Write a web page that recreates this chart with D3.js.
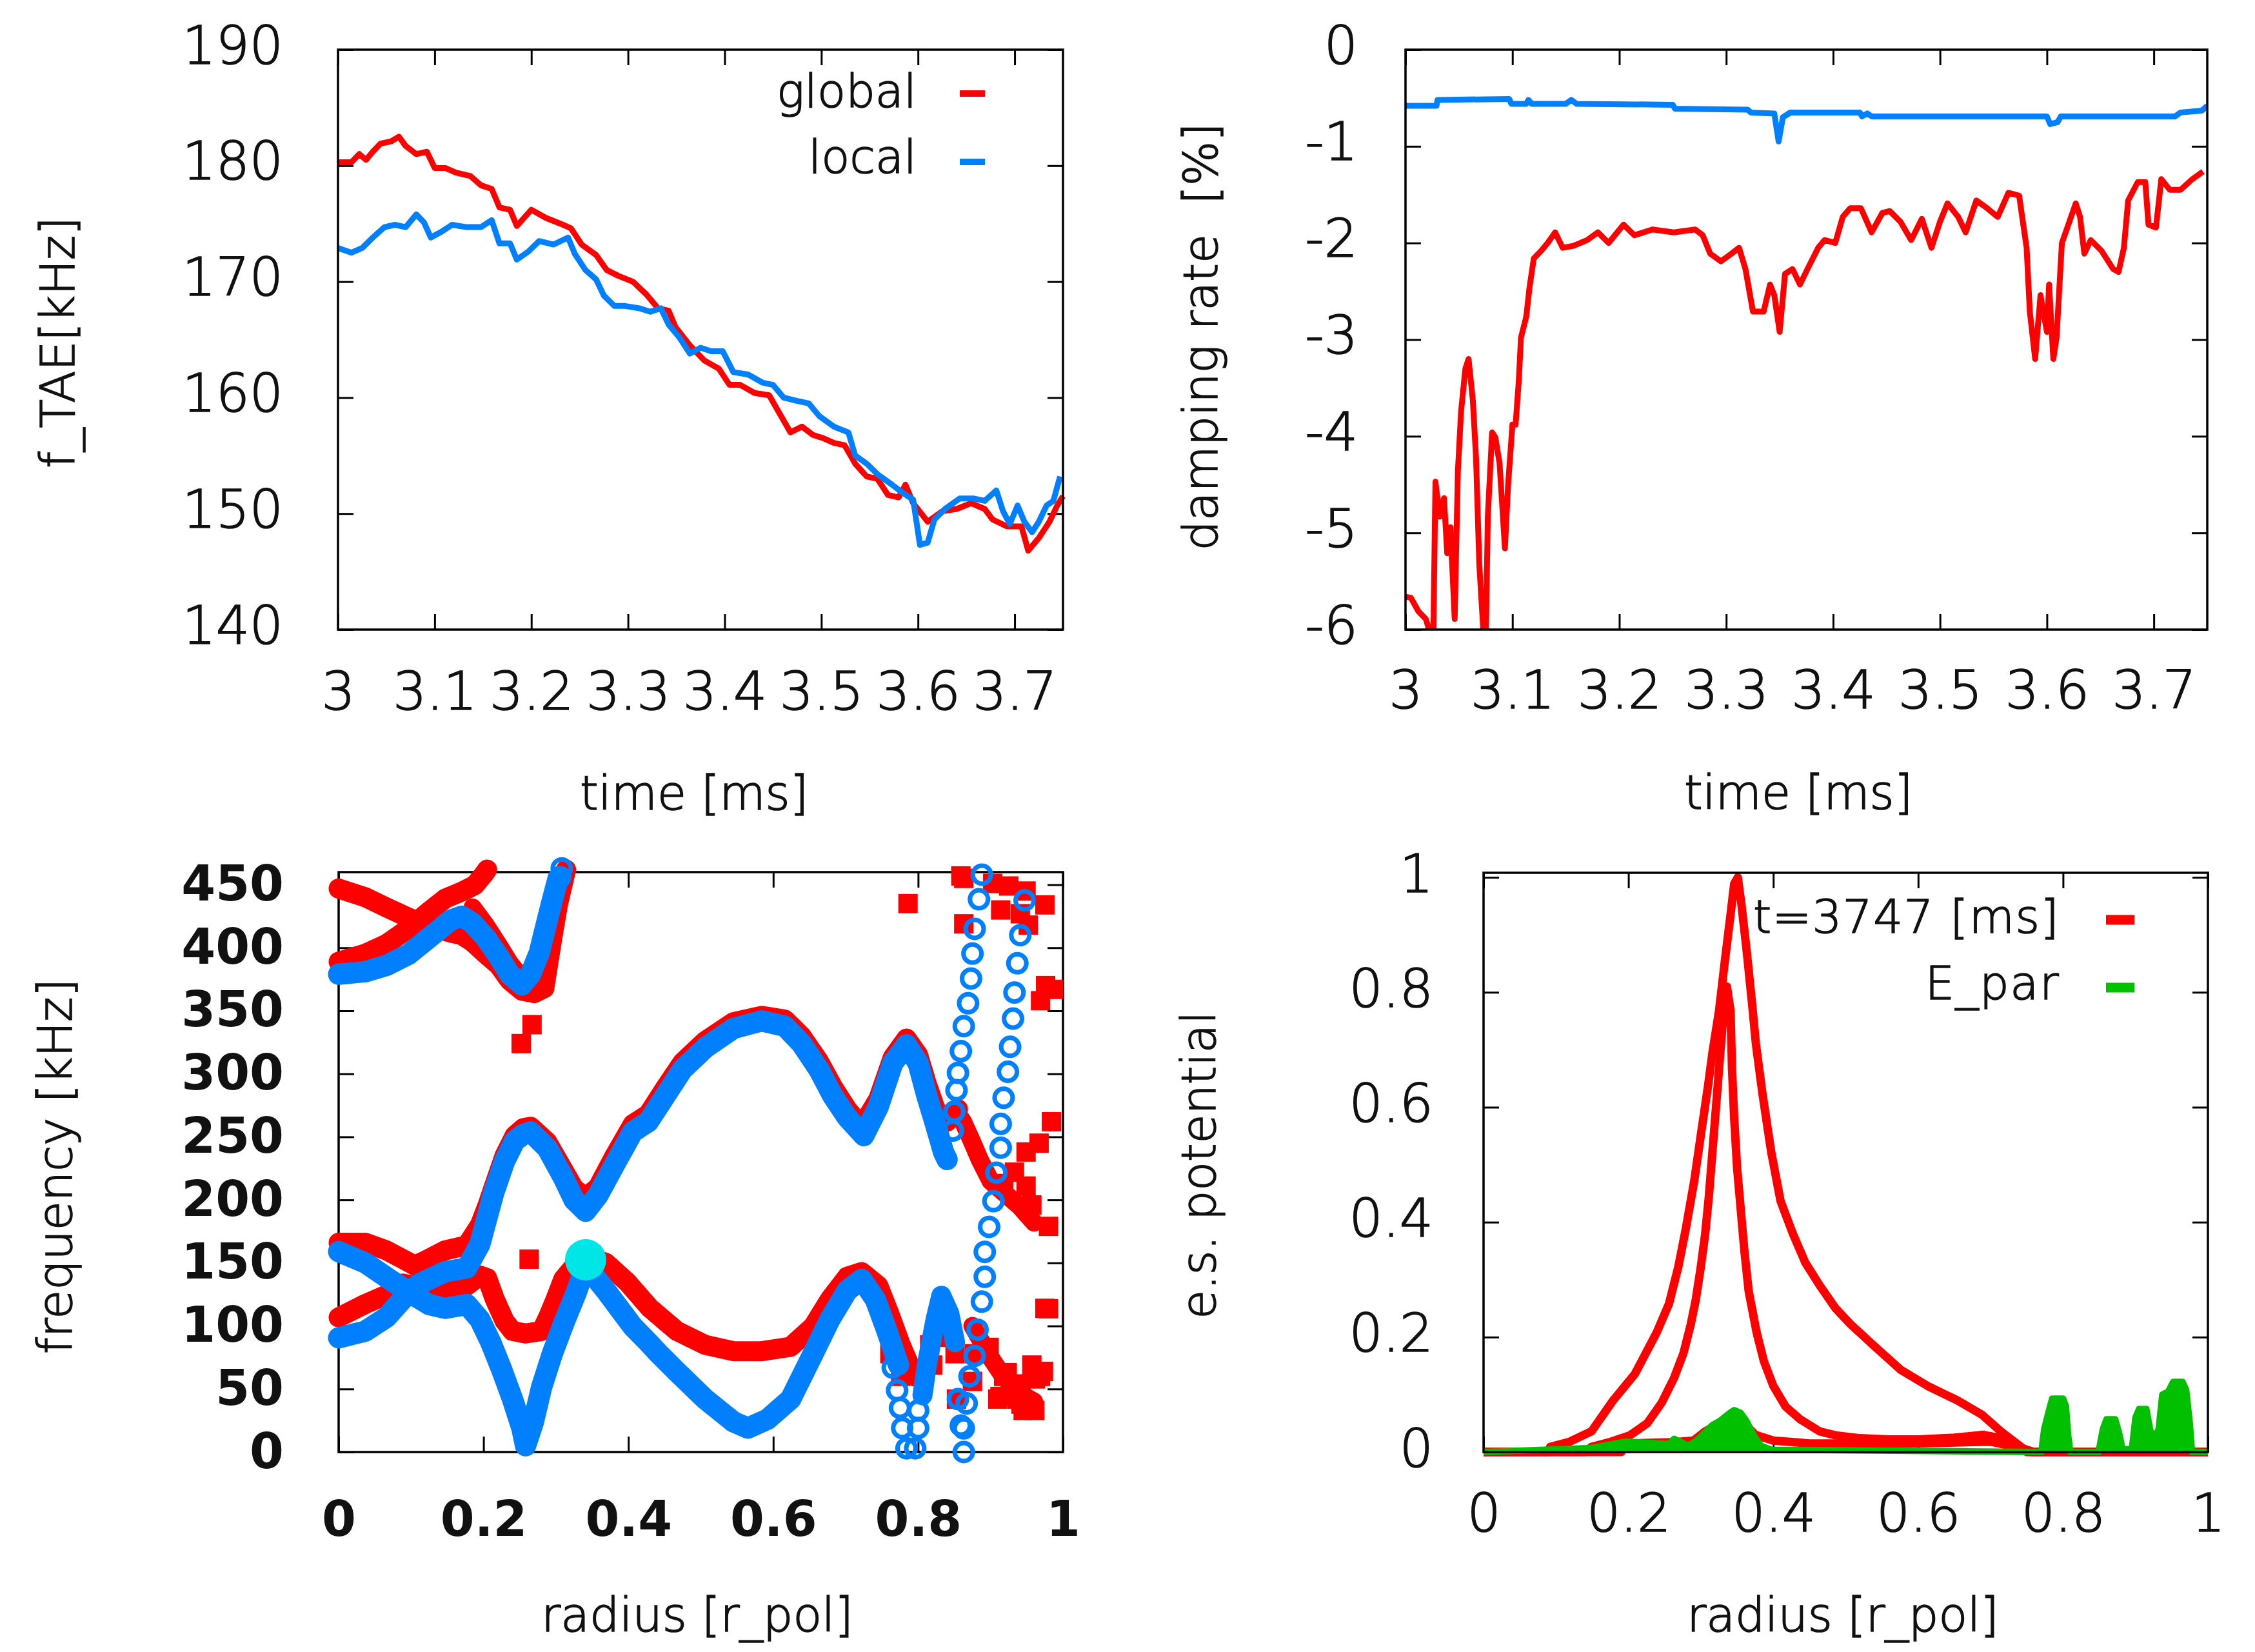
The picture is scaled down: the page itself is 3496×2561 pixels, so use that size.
<!DOCTYPE html>
<html>
<head>
<meta charset="utf-8">
<script src="https://cdn.jsdelivr.net/npm/d3@7"></script>
<style>
  html, body { margin: 0; padding: 0; background: #ffffff; }
  svg { display: block; }
  text { font-family: "DejaVu Sans", "Liberation Sans", sans-serif; fill: #111; font-weight: 300;
         stroke: #111; stroke-width: 1.6px; }
  text.heavy { stroke: none; }
</style>
</head>
<body>
<svg id="fig" width="3496" height="2561"></svg>
<script>
// ---------- tick values ----------
const timeTicks = [3, 3.1, 3.2, 3.3, 3.4, 3.5, 3.6, 3.7];
const freqTicks = [140, 150, 160, 170, 180, 190];
const dampTicks = [-6, -5, -4, -3, -2, -1, 0];
const radiusTicks = [0, 0.2, 0.4, 0.6, 0.8, 1];
const contTicks = [0, 50, 100, 150, 200, 250, 300, 350, 400, 450];
const potTicks = [0, 0.2, 0.4, 0.6, 0.8, 1];

// ---------- TAE frequency vs time [ms, kHz] ----------
const fTaeGlobal = [
  [3.000,180.3],[3.014,180.3],[3.022,181.0],[3.029,180.5],[3.036,181.2],[3.044,181.9],[3.055,182.1],
  [3.063,182.5],[3.070,181.7],[3.081,181.0],[3.092,181.2],[3.100,179.8],[3.111,179.8],[3.122,179.4],
  [3.137,179.1],[3.148,178.3],[3.159,178.0],[3.167,176.4],[3.178,176.2],[3.185,174.8],[3.200,176.2],
  [3.215,175.5],[3.230,175.0],[3.241,174.6],[3.252,173.2],[3.267,172.3],[3.278,171.0],[3.290,170.5],
  [3.305,170.0],[3.319,168.9],[3.331,167.7],[3.342,167.5],[3.349,166.1],[3.364,164.5],[3.379,163.2],
  [3.394,162.5],[3.405,161.1],[3.416,161.1],[3.431,160.4],[3.446,160.2],[3.457,158.6],[3.468,157.0],
  [3.480,157.5],[3.491,156.8],[3.502,156.5],[3.513,156.1],[3.524,155.9],[3.535,154.3],[3.547,153.2],
  [3.558,153.0],[3.569,151.6],[3.580,151.4],[3.587,152.5],[3.595,150.9],[3.610,149.3],[3.625,150.2],
  [3.640,150.4],[3.655,150.9],[3.669,150.4],[3.677,149.5],[3.692,148.9],[3.707,148.9],[3.714,146.8],
  [3.725,147.9],[3.736,149.3],[3.744,150.7],[3.750,151.5]
];
const fTaeLocal = [
  [3.000,172.9],[3.014,172.5],[3.025,172.9],[3.036,173.8],[3.048,174.7],[3.059,174.9],[3.070,174.7],
  [3.081,175.8],[3.089,175.1],[3.096,173.8],[3.107,174.3],[3.118,174.9],[3.133,174.7],[3.148,174.7],
  [3.159,175.3],[3.167,173.3],[3.178,173.3],[3.185,171.9],[3.197,172.6],[3.208,173.5],[3.223,173.2],
  [3.238,173.8],[3.245,172.4],[3.256,171.0],[3.267,170.2],[3.275,168.8],[3.286,167.9],[3.297,167.9],
  [3.312,167.7],[3.323,167.4],[3.334,167.7],[3.342,166.3],[3.353,165.2],[3.364,163.8],[3.375,164.3],
  [3.386,164.0],[3.398,164.0],[3.409,162.2],[3.424,162.0],[3.439,161.3],[3.450,161.1],[3.461,160.0],
  [3.476,159.7],[3.487,159.5],[3.498,158.4],[3.513,157.5],[3.528,157.0],[3.535,155.0],[3.547,154.3],
  [3.558,153.4],[3.573,152.5],[3.584,151.8],[3.595,151.2],[3.602,147.3],[3.610,147.5],[3.617,149.5],
  [3.628,150.4],[3.643,151.3],[3.658,151.3],[3.669,151.1],[3.681,152.0],[3.688,150.2],[3.695,149.1],
  [3.703,150.7],[3.710,149.3],[3.718,148.4],[3.725,149.3],[3.733,150.7],[3.740,151.1],[3.747,153.2]
];

// ---------- damping rate vs time [ms, %] ----------
const dampGlobal = [
  [3.000,-5.66],[3.005,-5.67],[3.012,-5.81],[3.019,-5.89],[3.022,-6.00],[3.026,-6.10],[3.028,-4.47],
  [3.032,-4.83],[3.036,-4.64],[3.039,-5.21],[3.042,-4.94],[3.046,-5.89],[3.049,-4.36],[3.052,-3.74],
  [3.056,-3.30],[3.059,-3.20],[3.063,-3.63],[3.066,-4.23],[3.069,-5.32],[3.073,-6.05],[3.075,-6.20],
  [3.077,-4.83],[3.081,-3.96],[3.084,-4.01],[3.088,-4.28],[3.093,-5.16],[3.096,-4.50],[3.100,-3.88],
  [3.103,-3.88],[3.106,-3.42],[3.108,-2.98],[3.113,-2.76],[3.116,-2.46],[3.120,-2.16],[3.127,-2.08],
  [3.133,-2.00],[3.140,-1.89],[3.147,-2.05],[3.157,-2.03],[3.170,-1.97],[3.180,-1.89],[3.190,-2.00],
  [3.204,-1.81],[3.214,-1.92],[3.231,-1.86],[3.251,-1.89],[3.271,-1.86],[3.278,-1.92],[3.285,-2.11],
  [3.295,-2.19],[3.305,-2.11],[3.312,-2.05],[3.318,-2.27],[3.325,-2.71],[3.335,-2.71],[3.341,-2.43],
  [3.345,-2.54],[3.350,-2.92],[3.355,-2.32],[3.362,-2.27],[3.369,-2.43],[3.376,-2.27],[3.386,-2.05],
  [3.392,-1.97],[3.402,-2.00],[3.409,-1.73],[3.416,-1.64],[3.426,-1.64],[3.436,-1.89],[3.446,-1.69],
  [3.453,-1.67],[3.463,-1.78],[3.473,-1.97],[3.483,-1.75],[3.492,-2.05],[3.500,-1.78],[3.507,-1.59],
  [3.517,-1.73],[3.524,-1.89],[3.534,-1.56],[3.544,-1.64],[3.554,-1.73],[3.564,-1.48],[3.574,-1.51],
  [3.581,-2.05],[3.584,-2.71],[3.589,-3.20],[3.594,-2.54],[3.600,-2.92],[3.602,-2.43],[3.606,-3.20],
  [3.609,-2.98],[3.614,-2.00],[3.621,-1.78],[3.627,-1.59],[3.631,-1.73],[3.635,-2.11],[3.641,-1.97],
  [3.651,-2.08],[3.662,-2.27],[3.667,-2.30],[3.672,-2.05],[3.676,-1.56],[3.685,-1.37],[3.692,-1.37],
  [3.695,-1.81],[3.702,-1.84],[3.707,-1.34],[3.715,-1.45],[3.725,-1.45],[3.736,-1.34],[3.746,-1.26]
];
const dampLocal = [
  [3.000,-0.58],[3.029,-0.58],[3.030,-0.52],[3.097,-0.51],[3.099,-0.56],[3.113,-0.56],[3.115,-0.52],
  [3.118,-0.56],[3.150,-0.56],[3.155,-0.52],[3.160,-0.56],[3.250,-0.57],[3.252,-0.61],[3.320,-0.62],
  [3.323,-0.65],[3.345,-0.66],[3.349,-0.95],[3.353,-0.70],[3.360,-0.65],[3.425,-0.65],[3.427,-0.69],
  [3.432,-0.66],[3.436,-0.69],[3.600,-0.69],[3.603,-0.77],[3.610,-0.75],[3.613,-0.69],[3.720,-0.69],
  [3.725,-0.65],[3.745,-0.63],[3.750,-0.58]
];

// ---------- continuum spectrum [r_pol, kHz] ----------
// global continuum branches (red)
const globalUpperA = [
  [0,447],[0.037,440],[0.066,432],[0.096,424],[0.125,417],[0.155,412],[0.17,410],[0.184,405],[0.203,395],
  [0.221,386],[0.236,374],[0.253,366],[0.27,364],[0.284,368],[0.29,390],[0.297,415],[0.303,435],[0.31,452],[0.314,462]
];
const globalUpperB = [
  [0,389],[0.037,395.4],[0.066,403],[0.096,415],[0.125,429],[0.147,439],[0.17,444.5],[0.188,449.7],[0.2,458],[0.205,462]
];
const globalUpperFlank = [[0.185,432],[0.203,418],[0.221,402],[0.236,388],[0.25,378]];
const globalLowA = [
  [0,166],[0.037,166],[0.066,160],[0.092,152],[0.105,148],[0.12,152],[0.147,160],[0.177,164],[0.195,180],
  [0.206,196.5],[0.214,210],[0.229,235],[0.243,251],[0.255,257],[0.265,258],[0.288,246],[0.31,224],
  [0.325,209],[0.341,202],[0.358,210],[0.38,234],[0.406,260],[0.4275,268],[0.451,289],[0.4745,309],
  [0.506,326],[0.545,341],[0.584,346],[0.616,343],[0.639,330],[0.663,310],[0.682,290],[0.702,272],
  [0.722,258],[0.745,280],[0.765,313],[0.784,328],[0.8,315],[0.812,292],[0.824,272],[0.84,262],[0.855,272]
];
const globalLowB = [
  [0,106.8],[0.037,117.5],[0.066,124.7],[0.088,133.7],[0.12,130],[0.147,130],[0.177,132],[0.195,140],
  [0.205,138],[0.215,122],[0.229,104],[0.24,96],[0.258,94],[0.28,96],[0.29,108],[0.3,122],[0.31,137],
  [0.323,146],[0.345,155],[0.369,150],[0.398,135],[0.43,114],[0.467,96],[0.506,85],[0.545,80],[0.584,80],
  [0.624,83.5],[0.655,99.6],[0.678,121],[0.702,139],[0.722,142.7],[0.745,132],[0.761,108.6],[0.776,85],
  [0.788,69],[0.796,60]
];
const globalEdgeHigh = [[0.85,272],[0.862,262],[0.873,248],[0.885,232],[0.9,215],[0.92,205],[0.94,195],[0.96,182]];
const globalEdgeLow = [[0.875,100],[0.89,85],[0.9,75],[0.915,62],[0.93,52],[0.945,45],[0.96,40]];
const globalSquares = [
  [0.252,324],[0.267,339],[0.263,153],
  [0.786,435],[0.859,457],[0.863,419],[0.863,455],[0.903,451],[0.914,430],[0.925,449],[0.941,427],
  [0.949,445],[0.952,418],[0.975,434],[0.976,370],[0.969,358],[0.987,367],[0.984,262],[0.967,245],
  [0.949,238],[0.933,222],[0.918,213],[0.949,211],[0.957,196],[0.98,179],[0.975,114],[0.98,113.6],
  [0.761,78],[0.776,60],[0.804,60],[0.816,85],[0.82,69],[0.843,91],[0.851,78],[0.853,42],[0.875,56],
  [0.878,78],[0.898,83],[0.918,60],[0.91,42],[0.937,42],[0.957,69],[0.969,60],[0.945,33],[0.961,33],
  [0.973,64],[0.923,63],[0.942,54],[0.962,58],[0.942,38],[0.913,44]
];

// local continuum branches (blue)
const localUpper = [
  [0,379],[0.037,381],[0.066,386],[0.096,394.6],[0.125,408],[0.155,422],[0.17,425],[0.184,420],[0.203,408],
  [0.221,393],[0.236,379],[0.253,370.5],[0.265,379],[0.277,396],[0.286,417],[0.295,437.6],[0.303,455]
];
const localMid = [
  [0,90.6],[0.037,96],[0.066,106.8],[0.088,121],[0.11,133],[0.147,143],[0.177,146],[0.195,165],[0.203,182],
  [0.214,205.5],[0.229,230.6],[0.243,246.8],[0.255,252],[0.265,254],[0.288,241],[0.31,218],[0.325,200],
  [0.341,191],[0.358,203.7],[0.38,227],[0.406,254],[0.4275,262],[0.451,282.7],[0.4745,303.4],[0.506,320.6],
  [0.545,336],[0.584,342],[0.616,337.8],[0.639,324],[0.663,303.4],[0.682,282.7],[0.702,265.5],[0.725,251],
  [0.745,274],[0.765,308.5],[0.784,323],[0.8,308.5],[0.812,282.7],[0.824,260],[0.835,238],[0.84,232]
];
const localLow = [
  [0,159],[0.037,150],[0.074,135.5],[0.103,124.7],[0.125,117],[0.147,114],[0.177,117],[0.195,105],[0.21,87],
  [0.225,65.5],[0.24,42],[0.253,18.8],[0.258,5],[0.269,24],[0.28,51],[0.295,78],[0.31,101],[0.328,126.5],
  [0.341,148],[0.369,128],[0.406,99.6],[0.4275,87],[0.442,78],[0.467,63.7],[0.506,42],[0.545,24],[0.565,19],
  [0.592,26],[0.624,42],[0.655,78],[0.678,105],[0.702,128],[0.722,137],[0.741,121],[0.757,96],[0.773,69]
];
const localEdge = [[0.806,45],[0.812,69],[0.824,105],[0.832,124],[0.843,110],[0.851,87]];
const localSparse = [
  [0.947,437.6],[0.941,410],[0.937,387.7],[0.933,364.5],[0.931,343.8],[0.927,321.4],[0.924,301.6],
  [0.918,281],[0.914,260.3],[0.914,241.4],[0.908,221.6],[0.904,199],[0.898,178.6],[0.892,158.8],
  [0.892,139],[0.888,119.3],[0.882,97],[0.878,76.3],[0.871,60],[0.867,38.6],[0.863,18.8],[0.863,0],
  [0.888,458],[0.884,438.5],[0.878,415],[0.875,395.4],[0.873,375.6],[0.869,356],[0.863,337.8],
  [0.859,318],[0.855,300.8],[0.853,287],[0.85,270],[0.848,255],
  [0.765,67],[0.771,49],[0.775,35],[0.778,19],[0.784,3],[0.796,3],[0.8,19],[0.8,33],
  [0.855,42],[0.859,21],
  [0.306,456],[0.308,463]
];
const taeMode = [[0.341,152.5]];

// ---------- mode structure [r_pol, normalised] ----------
const phiHarmonic1 = [
  [0,0],[0.09,0],[0.092,0.009],[0.119,0.018],[0.149,0.036],[0.179,0.09],[0.209,0.136],[0.239,0.208],
  [0.256,0.258],[0.269,0.323],[0.279,0.387],[0.291,0.473],[0.300,0.552],[0.310,0.638],[0.316,0.695],
  [0.325,0.767],[0.333,0.853],[0.340,0.925],[0.346,0.989],[0.351,1.0],[0.356,0.953],[0.363,0.875],
  [0.370,0.789],[0.376,0.710],[0.385,0.624],[0.397,0.523],[0.410,0.437],[0.427,0.38],[0.444,0.33],
  [0.464,0.29],[0.486,0.25],[0.507,0.222],[0.538,0.186],[0.576,0.143],[0.613,0.115],[0.654,0.090],
  [0.688,0.065],[0.714,0.036],[0.744,0.007],[0.755,0],[1,0]
];
const phiHarmonic2 = [
  [0,0],[0.14,0],[0.149,0.009],[0.176,0.018],[0.202,0.029],[0.226,0.05],[0.246,0.086],[0.263,0.129],
  [0.276,0.172],[0.286,0.222],[0.293,0.265],[0.300,0.323],[0.306,0.38],[0.311,0.444],[0.316,0.523],
  [0.321,0.602],[0.326,0.681],[0.331,0.76],[0.336,0.81],[0.341,0.767],[0.343,0.667],[0.346,0.581],
  [0.350,0.495],[0.355,0.423],[0.360,0.351],[0.366,0.28],[0.377,0.208],[0.387,0.158],[0.400,0.115],
  [0.417,0.079],[0.437,0.057],[0.464,0.036],[0.486,0.029],[0.52,0.024],[0.56,0.022],[0.6,0.022],
  [0.65,0.025],[0.69,0.03],[0.71,0.025],[0.74,0.008],[0.76,0],[1,0]
];
const phiHarmonic3 = [
  [0,0],[0.19,0],[0.2,0.015],[0.26,0.017],[0.29,0.02],[0.305,0.035],[0.325,0.05],[0.345,0.055],
  [0.36,0.05],[0.375,0.03],[0.4,0.02],[0.45,0.015],[0.6,0.015],[0.7,0.018],[0.73,0.01],[0.75,0],[1,0]
];
const eParallel = [
  [0,0],[0.149,0.007],[0.196,0.018],[0.256,0.014],[0.263,0.023],[0.283,0.011],[0.296,0.022],[0.316,0.047],
  [0.326,0.054],[0.340,0.068],[0.346,0.073],[0.355,0.068],[0.363,0.054],[0.373,0.029],[0.383,0.011],
  [0.397,0.004],[0.77,0],[0.774,0.04],[0.78,0.07],[0.785,0.093],[0.8,0.093],[0.804,0.08],[0.807,0.03],
  [0.81,0],[0.849,0],[0.855,0.04],[0.86,0.057],[0.872,0.057],[0.878,0.03],[0.882,0.005],[0.895,0.005],
  [0.9,0.06],[0.905,0.075],[0.915,0.075],[0.92,0.04],[0.925,0.02],[0.932,0.04],[0.937,0.1],[0.945,0.105],
  [0.952,0.122],[0.965,0.122],[0.97,0.108],[0.975,0.05],[0.978,0],[1,0]
];

// ---------- colours ----------
const RED = "#ff0000", BLUE = "#0080ff", GREEN = "#00c000", CYAN = "#00e6e6";

// ---------- drawing helpers ----------
const svg = d3.select("#fig");
const TICK_LEN = 24;
const fmt = d => String(d);

function makePanel(o) {
  const g = svg.append("g");
  const x = d3.scaleLinear().domain(o.xDomain).range([o.left, o.right]);
  const y = d3.scaleLinear().domain(o.yDomain).range([o.bottom, o.top]);
  return { g, x, y, o };
}

function styleAxis(sel, size, weight) {
  sel.select(".domain").remove();
  sel.attr("font-family", "DejaVu Sans, sans-serif").attr("font-size", size);
  sel.selectAll(".tick line").attr("stroke", "#000").attr("stroke-width", 3);
  sel.selectAll(".tick text").attr("fill", "#111").style("font-weight", weight)
    .classed("heavy", weight === "bold");
}

function drawFrame(p) {
  const { g, x, y, o } = p;
  const size = o.tickFont, weight = o.tickWeight || "300";
  g.append("g").attr("transform", `translate(${o.left},0)`)
    .call(d3.axisLeft(y).tickValues(o.yTicks).tickSizeInner(-TICK_LEN).tickSizeOuter(0)
      .tickPadding(o.yPad).tickFormat(fmt))
    .call(s => styleAxis(s, size, weight))
    .call(s => s.selectAll(".tick text").attr("dy", o.yDy));
  g.append("g").attr("transform", `translate(${o.right},0)`)
    .call(d3.axisRight(y).tickValues(o.yTicks).tickSizeInner(-TICK_LEN).tickSizeOuter(0).tickFormat(""))
    .call(s => styleAxis(s, size, weight));
  g.append("g").attr("transform", `translate(0,${o.bottom})`)
    .call(d3.axisBottom(x).tickValues(o.xTicks).tickSizeInner(-TICK_LEN).tickSizeOuter(0).tickFormat(fmt))
    .call(s => styleAxis(s, size, weight))
    .call(s => s.selectAll(".tick text").attr("y", o.xLabelOffset).attr("dy", 0));
  g.append("g").attr("transform", `translate(0,${o.top})`)
    .call(d3.axisTop(x).tickValues(o.xTicks).tickSizeInner(-TICK_LEN).tickSizeOuter(0).tickFormat(""))
    .call(s => styleAxis(s, size, weight));
}

function drawBorder(p) {
  const { g, o } = p;
  g.append("rect").attr("x", o.left).attr("y", o.top)
    .attr("width", o.right - o.left).attr("height", o.bottom - o.top)
    .attr("fill", "none").attr("stroke", "#000").attr("stroke-width", 3.5);
}

function titles(p, xt, yt) {
  const { g } = p;
  g.append("text").attr("x", xt.x).attr("y", xt.y).attr("text-anchor", "middle")
    .attr("font-size", 73).style("white-space", "pre").text(xt.text);
  g.append("text").attr("transform", `translate(${yt.x},${yt.y}) rotate(-90)`)
    .attr("text-anchor", "middle").attr("font-size", 73).style("white-space", "pre").text(yt.text);
}

function legendEntry(g, label, colour, tx, ty, lx1, lx2, ly, width, spacing) {
  g.append("text").attr("x", tx).attr("y", ty).attr("text-anchor", "end")
    .attr("font-size", 72).attr("letter-spacing", spacing || 0).text(label);
  g.append("line").attr("x1", lx1).attr("x2", lx2).attr("y1", ly).attr("y2", ly)
    .attr("stroke", colour).attr("stroke-width", width);
}

// ---------- panel 1 : TAE frequency ----------
{
  const p = makePanel({ xDomain: [3, 3.75], yDomain: [140, 190], left: 524, right: 1648, top: 77, bottom: 976,
    xTicks: timeTicks, yTicks: freqTicks, tickFont: 82, yPad: 85, yDy: 21, xLabelOffset: 124 });
  drawFrame(p);
  const line = d3.line().x(d => p.x(d[0])).y(d => p.y(d[1]));
  p.g.append("path").datum(fTaeGlobal).attr("d", line).attr("fill", "none")
    .attr("stroke", RED).attr("stroke-width", 9).attr("stroke-linejoin", "round");
  p.g.append("path").datum(fTaeLocal).attr("d", line).attr("fill", "none")
    .attr("stroke", BLUE).attr("stroke-width", 9).attr("stroke-linejoin", "round");
  drawBorder(p);
  titles(p, { x: 1076, y: 1255, text: "time [ms]" }, { x: 115, y: 531, text: "f_TAE[kHz]" });
  legendEntry(p.g, "global", RED, 1421, 166, 1488, 1527, 145, 10);
  legendEntry(p.g, "local", BLUE, 1421, 268, 1488, 1527, 251, 10);
}

// ---------- panel 2 : damping rate ----------
{
  const p = makePanel({ xDomain: [3, 3.75], yDomain: [-6, 0], left: 2179, right: 3422, top: 77, bottom: 976,
    xTicks: timeTicks, yTicks: dampTicks, tickFont: 82, yPad: 74, yDy: 21, xLabelOffset: 122 });
  drawFrame(p);
  p.g.append("clipPath").attr("id", "clip-damp").append("rect")
    .attr("x", 2179).attr("y", 77).attr("width", 3422 - 2179).attr("height", 976 - 77);
  const line = d3.line().x(d => p.x(d[0])).y(d => p.y(d[1]));
  const lines = p.g.append("g").attr("clip-path", "url(#clip-damp)");
  lines.append("path").datum(dampGlobal).attr("d", line).attr("fill", "none")
    .attr("stroke", RED).attr("stroke-width", 9).attr("stroke-linejoin", "round");
  lines.append("path").datum(dampLocal).attr("d", line).attr("fill", "none")
    .attr("stroke", BLUE).attr("stroke-width", 9).attr("stroke-linejoin", "round");
  drawBorder(p);
  titles(p, { x: 2788, y: 1254, text: "time [ms]" }, { x: 1887, y: 522, text: "damping rate  [%]" });
}

// ---------- panel 3 : continuum ----------
{
  const p = makePanel({ xDomain: [0, 1], yDomain: [0, 460], left: 525, right: 1648, top: 1352, bottom: 2251,
    xTicks: radiusTicks, yTicks: contTicks, tickFont: 76, tickWeight: "bold", yPad: 85, yDy: 24, xLabelOffset: 130 });
  drawFrame(p);
  drawBorder(p);
  const bandPoly = d3.line().x(d => p.x(d[0])).y(d => p.y(d[1]));
  const bandStyle = (sel, colour, w) => sel.attr("fill", "none").attr("stroke", colour)
    .attr("stroke-width", w).attr("stroke-linejoin", "round").attr("stroke-linecap", "round");

  // global (red) branches underneath
  [globalUpperA, globalUpperB, globalLowA, globalLowB].forEach(b =>
    p.g.append("path").datum(b).attr("d", bandPoly).call(bandStyle, RED, 31));
  [globalUpperFlank, globalEdgeHigh, globalEdgeLow].forEach(b =>
    p.g.append("path").datum(b).attr("d", bandPoly).call(bandStyle, RED, 28));
  p.g.selectAll("rect.gsq").data(globalSquares).join("rect").attr("class", "gsq")
    .attr("x", d => p.x(d[0]) - 15).attr("y", d => p.y(d[1]) - 15)
    .attr("width", 30).attr("height", 30).attr("fill", RED);

  // local (blue) branches on top
  [localUpper, localMid, localLow].forEach(b =>
    p.g.append("path").datum(b).attr("d", bandPoly).call(bandStyle, BLUE, 33));
  p.g.append("path").datum(localEdge).attr("d", bandPoly).call(bandStyle, BLUE, 31);
  p.g.selectAll("circle.lsp").data(localSparse).join("circle").attr("class", "lsp")
    .attr("cx", d => p.x(d[0])).attr("cy", d => p.y(d[1])).attr("r", 14)
    .attr("fill", "none").attr("stroke", BLUE).attr("stroke-width", 7);

  // the TAE itself
  p.g.selectAll("circle.tae").data(taeMode).join("circle").attr("class", "tae")
    .attr("cx", d => p.x(d[0])).attr("cy", d => p.y(d[1])).attr("r", 32).attr("fill", CYAN);

  titles(p, { x: 1081, y: 2529, text: "radius [r_pol]" }, { x: 111, y: 1808, text: "frequency [kHz]" });
}

// ---------- panel 4 : mode structure ----------
{
  const p = makePanel({ xDomain: [0, 1], yDomain: [0, 1.008], left: 2300, right: 3423, top: 1353, bottom: 2251,
    xTicks: radiusTicks, yTicks: potTicks, tickFont: 82, yPad: 78, yDy: 22, xLabelOffset: 123 });
  drawFrame(p);
  const line = d3.line().x(d => p.x(d[0])).y(d => p.y(d[1]));
  [phiHarmonic1, phiHarmonic2, phiHarmonic3].forEach(h =>
    p.g.append("path").datum(h).attr("d", line).attr("fill", "none")
      .attr("stroke", RED).attr("stroke-width", 13).attr("stroke-linejoin", "round"));
  const area = d3.area().x(d => p.x(d[0])).y0(p.y(0)).y1(d => p.y(d[1]));
  p.g.append("path").datum(eParallel).attr("d", area).attr("fill", GREEN);
  p.g.append("path").datum(eParallel).attr("d", line).attr("fill", "none")
    .attr("stroke", GREEN).attr("stroke-width", 10).attr("stroke-linejoin", "round");
  drawBorder(p);
  titles(p, { x: 2857, y: 2529, text: "radius [r_pol]" }, { x: 1884, y: 1806, text: "e.s. potential" });
  legendEntry(p.g, "t=3747 [ms]", RED, 3193, 1446, 3265, 3309, 1426, 15, 1.5);
  legendEntry(p.g, "E_par", GREEN, 3193, 1549, 3265, 3309, 1531, 15, 1.5);
}
</script>
</body>
</html>
